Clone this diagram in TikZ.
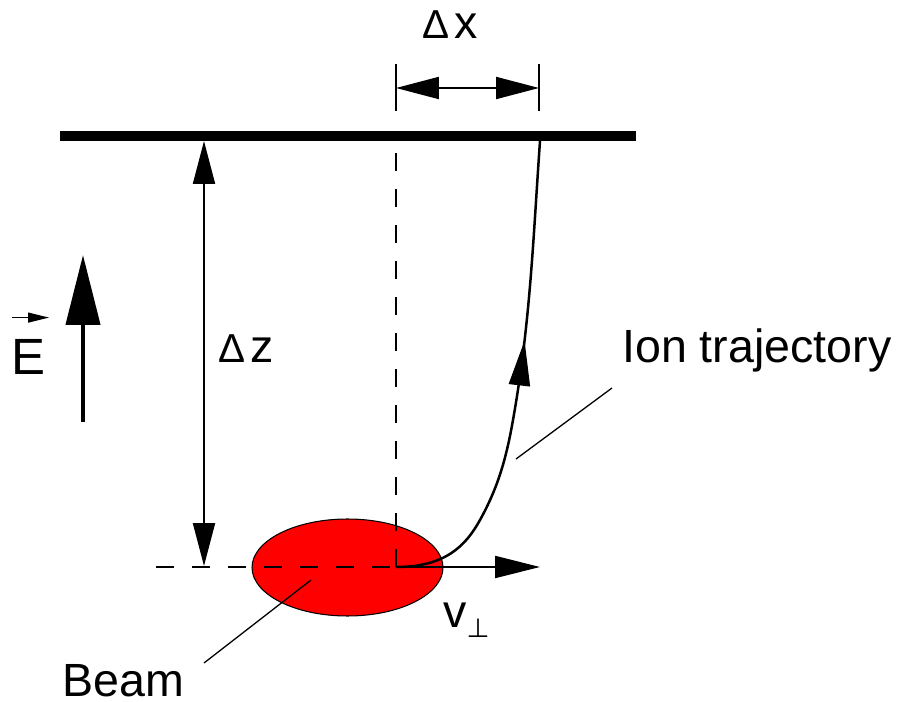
\documentclass[tikz,border=0pt]{standalone}
\usepackage{fontspec}
\setmainfont{Liberation Sans}
\newfontfamily\symbfont{DejaVu Sans}
\usetikzlibrary{arrows.meta, shapes.geometric, decorations.markings}
\definecolor{beamred}{RGB}{255, 0, 0}
\newcommand{\deltasym}{{\fontsize{23}{26}\selectfont Δ}}

\begin{document}
\begin{tikzpicture}[x=0.02cm, y=-0.02cm,
    lbl/.style={font=\fontsize{26.5}{31}\selectfont, inner sep=0pt},
    thinline/.style={line width=0.04cm},
    dimline/.style={line width=0.04cm, {Triangle[length=0.86cm, width=0.44cm]}-{Triangle[length=0.86cm, width=0.44cm]}},
    refdash/.style={line width=0.04cm, dash pattern=on 0.36cm off 0.36cm},
    leader/.style={line width=0.026cm},
    traj/.style={line width=0.05cm, postaction={decorate}, decoration={markings,
      mark=at position 0.59 with {\arrow{Triangle[length=0.9cm, width=0.42cm]}}}}]
  \useasboundingbox (0,0) rectangle (903,702);

  % plate
  \coordinate (plateL) at (60,136);
  \coordinate (plateR) at (636,136);
  \draw[line width=0.2cm] (plateL) -- (plateR);

  % beam
  \node[ellipse, draw, line width=0.6pt, fill=beamred, minimum width=3.82cm, minimum height=1.94cm, inner sep=0pt] (beam) at (347.5,567.5) {};

  % reference lines
  \coordinate (origin) at (396,567);
  \coordinate (topfoot) at (396,141);
  \coordinate (leftend) at (156,567);
  \draw[refdash] (origin) -- (topfoot);
  \draw[refdash] (leftend) -- (origin);

  % delta z
  \coordinate (dzTop) at (204,141);
  \coordinate (dzBot) at (204,566);
  \draw[dimline] (dzTop) -- (dzBot);
  \node[lbl, anchor=base] (dzlabel) at (246,363) {\deltasym\hspace{3pt}z};

  % delta x
  \coordinate (dxL) at (396,88);
  \coordinate (dxR) at (539,88);
  \draw[thinline] (dxL) ++(0,-24) -- ++(0,47);
  \draw[thinline] (dxR) ++(0,-24) -- ++(0,47);
  \draw[dimline] (dxL) -- (dxR);
  \node[lbl, anchor=base] (dxlabel) at (450,39) {\deltasym\hspace{3pt}x};

  % field
  \coordinate (eTail) at (83,422);
  \coordinate (eHead) at (83,255);
  \draw[line width=0.086cm, -{Triangle[length=1.4cm, width=0.68cm]}] (eTail) -- (eHead);
  \node[font=\fontsize{29}{32}\selectfont, inner sep=0pt, anchor=base west] (efield) at (11,375) {E};
  \draw[line width=0.024cm, -{Triangle[length=0.42cm, width=0.2cm]}] ([shift={(1,-22)}]efield.north west) -- ([shift={(38,-22)}]efield.north west);

  % trajectory
  \coordinate (knee) at (480,520);
  \coordinate (rise) at (513,420);
  \coordinate (hit) at (540,141);
  \draw[traj] (origin) .. controls (445,567) and (465.5,546.2) .. (knee)
    .. controls (498.4,486.8) and (506.4,457.4) .. (rise)
    .. controls (530.4,321.5) and (533,240.8) .. (hit);
  \coordinate (vEnd) at (540,567);
  \draw[thinline, -{Triangle[length=0.9cm, width=0.44cm]}] (origin) -- (vEnd);
  \node[lbl, anchor=base west] (vlabel) at (443,627) {v\raisebox{-6pt}{\symbfont\fontsize{15}{15}\selectfont ⊥}};

  % labels
  \node[lbl, anchor=base west] (ionlabel) at (622,363) {Ion trajectory};
  \coordinate (ionFoot) at (612,388);
  \coordinate (ionTip) at (516,459);
  \draw[leader] (ionFoot) -- (ionTip);
  \node[lbl, anchor=base west] (beamlabel) at (62,696) {Beam};
  \coordinate (beamFoot) at (204,663);
  \coordinate (beamTip) at (311,580);
  \draw[leader] (beamFoot) -- (beamTip);
\end{tikzpicture}
\end{document}
